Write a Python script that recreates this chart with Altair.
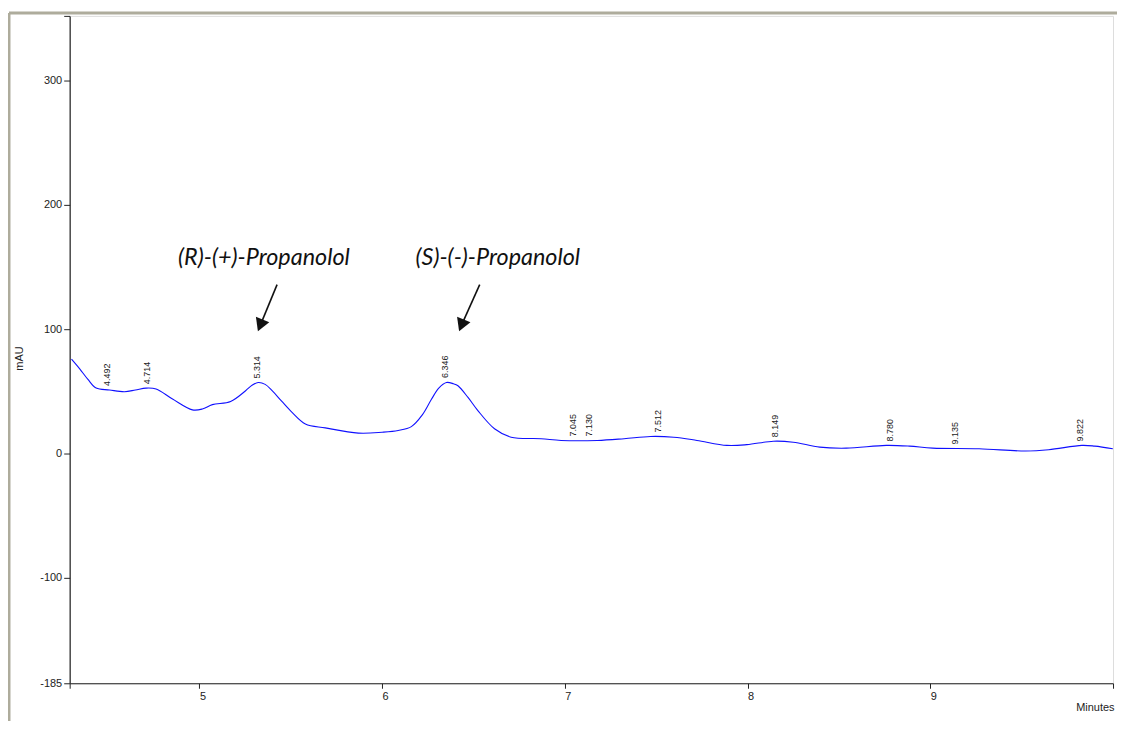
import altair as alt
import pandas as pd

# Chromatogram trace (minutes, mAU)
times = [4.30, 4.345, 4.39, 4.435, 4.508, 4.59, 4.65, 4.708, 4.763, 4.853, 4.962, 5.016,
         5.071, 5.171, 5.253, 5.29, 5.322, 5.36, 5.398, 5.45, 5.507, 5.58, 5.689, 5.87,
         6.0, 6.088, 6.16, 6.22, 6.27, 6.31, 6.352, 6.39, 6.415, 6.47, 6.524, 6.615, 6.706,
         6.87, 6.98, 7.178, 7.324, 7.469, 7.596, 7.723, 7.887, 7.996, 8.141, 8.25, 8.395,
         8.54, 8.759, 8.886, 9.013, 9.267, 9.52, 9.648, 9.83, 9.9, 9.999]
signal = [75.8, 68.0, 59.5, 52.5, 51.0, 49.6, 51.0, 52.5, 51.8, 43.7, 35.0, 35.7,
          39.2, 41.8, 50.4, 55.0, 57.0, 55.5, 50.4, 42.0, 33.0, 23.7, 20.5, 16.3,
          17.0, 18.4, 21.5, 31.0, 43.5, 52.5, 57.0, 56.0, 54.4, 45.0, 34.4, 19.8, 13.0,
          11.8, 10.4, 10.4, 11.8, 13.6, 13.0, 10.4, 6.4, 7.0, 9.8, 9.0, 5.0,
          4.2, 6.4, 5.8, 4.2, 3.7, 1.9, 2.9, 6.4, 5.8, 3.7]

# Peak retention-time labels
peak_times = [4.492, 4.714, 5.314, 6.346, 7.045, 7.130, 7.512, 8.149, 8.780, 9.135, 9.822]
peak_heights = [51.0, 52.5, 57.0, 57.5, 10.4, 10.4, 13.6, 9.8, 6.4, 4.0, 6.4]
peak_labels = ["4.492", "4.714", "5.314", "6.346", "7.045", "7.130", "7.512", "8.149",
               "8.780", "9.135", "9.822"]

# Compound annotations with arrows
ann_names = ["(R)-(+)-Propanolol", "(S)-(-)-Propanolol"]
ann_x = [5.353, 6.633]
ann_y = [157.0, 157.0]
arrow_x_start = [5.425, 6.534]
arrow_y_start = [135.8, 135.8]
arrow_x_end = [5.333, 6.434]
arrow_y_end = [103.0, 103.0]

x_domain = [4.29, 10.0]
y_domain = [-185, 352]
x_ticks = [4.29, 5, 6, 7, 8, 9, 10]
y_ticks = [-185, -100, 0, 100, 200, 300, 352]

trace = pd.DataFrame({"t": times, "v": signal})
peaks = pd.DataFrame({"t": peak_times, "v": peak_heights, "label": peak_labels})
ann = pd.DataFrame({"t": ann_x, "v": ann_y, "name": ann_names,
                    "x0": arrow_x_start, "y0": arrow_y_start,
                    "x1": arrow_x_end, "y1": arrow_y_end})
one = pd.DataFrame({"a": [0]})

axis_color = "#222222"
font = "Liberation Sans"

xs = alt.Scale(domain=x_domain, nice=False, zero=False)
ys = alt.Scale(domain=y_domain, nice=False, zero=False)

line = alt.Chart(trace).mark_line(color="#1010ff", strokeWidth=1.1, interpolate="catmull-rom").encode(
    x=alt.X("t:Q", scale=xs, axis=alt.Axis(
        values=x_ticks, title="Minutes", grid=False,
        labelExpr="(datum.value < 4.5 || datum.value > 9.5) ? '' : toString(datum.value)",
        labelAlign="left", labelBaseline="top", labelPadding=2,
        labelFont=font, labelFontSize=11, labelColor="#222",
        tickSize=5, tickColor=axis_color, domainColor=axis_color, domainWidth=1.2,
        titleFont=font, titleFontSize=11, titleFontWeight="normal", titleColor="#222",
        titleAnchor="end", titleAlign="right", titleX=1050, titleY=18, titleBaseline="top")),
    y=alt.Y("v:Q", scale=ys, axis=alt.Axis(
        values=y_ticks, title="mAU", grid=False,
        labelExpr="datum.value > 340 ? '' : toString(datum.value)",
        labelFont=font, labelFontSize=11, labelColor="#222", labelPadding=2,
        tickSize=6, tickColor=axis_color, domainColor=axis_color, domainWidth=1.2,
        titleFont=font, titleFontSize=11, titleFontWeight="normal", titleColor="#222",
        titleAngle=270, titleX=-50, titleY=344, titleAlign="center", titleBaseline="middle")),
)

peak_text = alt.Chart(peaks).mark_text(
    angle=270, align="left", baseline="middle", dx=4, font=font, fontSize=9, color="#222"
).encode(x=alt.X("t:Q", scale=xs), y=alt.Y("v:Q", scale=ys), text="label:N")

ann_text = alt.Chart(ann).mark_text(
    font="Lato", fontStyle="italic", fontSize=23.5, color="#111", align="center", baseline="middle"
).encode(x=alt.X("t:Q", scale=xs), y=alt.Y("v:Q", scale=ys), text="name:N")

arrow_shaft = alt.Chart(ann).mark_rule(color="#111", strokeWidth=1.6).encode(
    x=alt.X("x0:Q", scale=xs), y=alt.Y("y0:Q", scale=ys),
    x2="x1:Q", y2="y1:Q")

arrow_head = alt.Chart(ann).mark_point(
    shape="triangle-down", filled=True, color="#111", opacity=1, size=210, angle=22
).encode(x=alt.X("x1:Q", scale=xs), y=alt.Y("y1:Q", scale=ys))

frame_left = alt.Chart(one).mark_rule(color="#aeac9c", strokeWidth=3).encode(
    x=alt.value(-61), y=alt.value(-3), y2=alt.value(720))
frame_top = alt.Chart(one).mark_rule(color="#aeac9c", strokeWidth=3).encode(
    x=alt.value(-61), x2=alt.value(1060), y=alt.value(-3))

chart = alt.layer(frame_left, frame_top, line, peak_text, arrow_shaft, arrow_head, ann_text).properties(
    width=1049, height=671,
    autosize=alt.AutoSizeParams(type="none"),
    padding={"left": 62, "top": 6, "right": 4, "bottom": 36},
).configure_view(stroke=None).configure(background="white")

chart.save("out.html", embed_options={"renderer": "svg", "actions": False})
